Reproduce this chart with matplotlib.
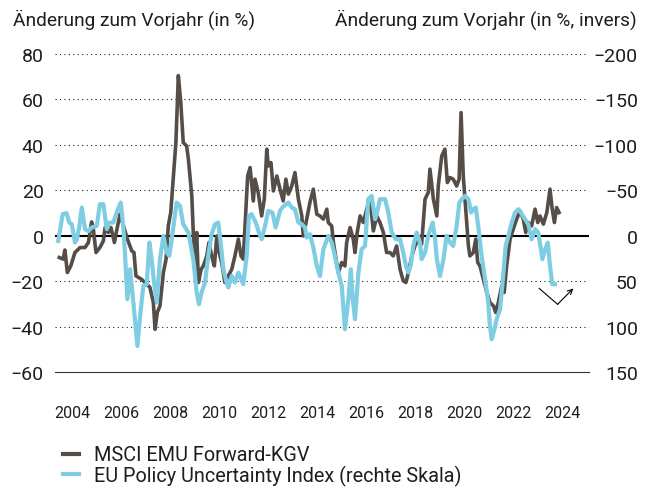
import matplotlib.pyplot as plt
from matplotlib.lines import Line2D

plt.rcParams['font.family'] = ['Roboto', 'DejaVu Sans']

# MSCI EMU Forward-KGV, Veränderung ggü. Vorjahr in % (linke Skala)
kgv_t = [2003.48, 2003.64, 2003.71, 2003.81, 2003.95, 2004.12, 2004.33, 2004.53, 2004.67, 2004.80,
         2004.87, 2004.98, 2005.14, 2005.28, 2005.35, 2005.48, 2005.59, 2005.73, 2005.82, 2005.96,
         2006.26, 2006.44, 2006.53, 2006.61, 2006.84, 2007.05, 2007.18, 2007.32, 2007.39, 2007.48,
         2007.59, 2007.73, 2007.84, 2007.93, 2008.03, 2008.13, 2008.24, 2008.34, 2008.44, 2008.54,
         2008.68, 2008.75, 2008.89, 2008.95, 2009.02, 2009.09, 2009.16, 2009.27, 2009.36, 2009.50,
         2009.59, 2009.70, 2009.81, 2009.91, 2009.97, 2010.11, 2010.24, 2010.38, 2010.52, 2010.65,
         2010.79, 2010.90, 2010.99, 2011.17, 2011.27, 2011.33, 2011.40, 2011.47, 2011.60, 2011.74,
         2011.85, 2011.95, 2012.01, 2012.12, 2012.22, 2012.36, 2012.49, 2012.62, 2012.73, 2012.83,
         2012.97, 2013.10, 2013.24, 2013.38, 2013.44, 2013.58, 2013.71, 2013.85, 2013.99, 2014.12,
         2014.26, 2014.40, 2014.46, 2014.60, 2014.67, 2014.80, 2014.87, 2015.01, 2015.14, 2015.21,
         2015.35, 2015.48, 2015.55, 2015.64, 2015.76, 2015.89, 2016.03, 2016.16, 2016.30, 2016.44,
         2016.57, 2016.71, 2016.84, 2016.98, 2017.11, 2017.25, 2017.39, 2017.52, 2017.63, 2017.73,
         2017.87, 2018.00, 2018.13, 2018.27, 2018.41, 2018.54, 2018.61, 2018.75, 2018.89, 2018.95,
         2019.09, 2019.22, 2019.32, 2019.43, 2019.56, 2019.70, 2019.80, 2019.88, 2019.97, 2020.04,
         2020.11, 2020.18, 2020.24, 2020.38, 2020.48, 2020.56, 2020.65, 2020.79, 2020.93, 2021.06,
         2021.20, 2021.29, 2021.40, 2021.54, 2021.64, 2021.74, 2021.88, 2022.01, 2022.15, 2022.29,
         2022.42, 2022.52, 2022.62, 2022.76, 2022.90, 2023.01, 2023.10, 2023.24, 2023.38, 2023.51,
         2023.60, 2023.69, 2023.78, 2023.88]
kgv = [-9.6, -10.3, -6.3, -16.2, -13.3, -7.4, -5.2, -5.2, -3.0, 6.1,
       2.9, -7.4, -5.2, -2.3, 3.6, 1.4, 3.6, -3.0, 2.1, 9.5,
       -1.5, -6.7, -7.4, -17.7, -19.2, -21.4, -22.7, -29.4, -41.2, -33.8,
       -30.9, -16.2, -10.3, 4.3, 10.2, 24.9, 41.0, 70.5, 58.7, 41.0,
       39.5, 33.7, 17.5, 1.4, -11.8, 1.4, -20.6, -14.8, -13.3, -8.9,
       -3.0, -8.9, -13.3, -0.1, -5.9, -11.8, -20.6, -17.7, -14.8, -8.9,
       -1.5, -8.9, -10.3, 26.3, 30.0, 23.4, 15.3, 24.9, 19.0, 8.7,
       16.1, 38.1, 30.7, 32.2, 19.7, 26.3, 20.5, 15.3, 24.9, 18.3,
       21.9, 27.8, 16.1, 8.7, -0.1, 7.3, 14.6, 20.5, 9.5, 8.7,
       7.3, 11.7, 5.8, 4.3, -3.0, -11.8, -16.2, -11.8, -13.3, -3.0,
       3.6, -1.5, -7.4, 1.4, 8.7, 5.8, 11.7, 16.1, 2.1, 8.7,
       5.8, 1.4, -7.4, -7.4, -8.9, -4.5, -14.8, -19.9, -20.6, -16.2,
       -8.9, -4.5, -1.5, -3.7, 16.1, 19.0, 29.3, 16.1, 8.7, 21.9,
       35.1, 38.1, 23.4, 25.6, 24.9, 21.9, 24.9, 54.2, 26.3, 16.1,
       5.8, -4.5, -8.9, -7.4, -1.5, -11.8, -13.3, -19.2, -25.0, -29.4,
       -30.9, -33.8, -29.4, -22.1, -25.0, -13.3, -1.5, 2.9, 7.3, 10.9,
       7.3, 1.4, 5.8, 4.3, 11.7, 5.8, 8.7, 5.1, 10.2, 20.5,
       11.7, 5.8, 12.4, 10.2]

# EU Policy Uncertainty Index, Veränderung ggü. Vorjahr in % (rechte Skala, invers)
epu_t = [2003.44, 2003.62, 2003.78, 2003.89, 2003.99, 2004.12, 2004.20, 2004.30, 2004.40, 2004.53,
         2004.67, 2004.80, 2005.01, 2005.14, 2005.28, 2005.42, 2005.52, 2005.69, 2005.82, 2005.99,
         2006.09, 2006.16, 2006.26, 2006.37, 2006.44, 2006.53, 2006.67, 2006.78, 2006.91, 2007.05,
         2007.16, 2007.25, 2007.35, 2007.46, 2007.59, 2007.73, 2007.87, 2007.97, 2008.07, 2008.27,
         2008.41, 2008.54, 2008.75, 2008.95, 2009.09, 2009.18, 2009.29, 2009.43, 2009.56, 2009.70,
         2009.84, 2009.97, 2010.08, 2010.18, 2010.31, 2010.38, 2010.52, 2010.65, 2010.79, 2010.99,
         2011.13, 2011.22, 2011.33, 2011.50, 2011.63, 2011.74, 2011.88, 2012.01, 2012.18, 2012.31,
         2012.49, 2012.62, 2012.83, 2012.97, 2013.10, 2013.24, 2013.38, 2013.51, 2013.58, 2013.71,
         2013.85, 2013.99, 2014.12, 2014.26, 2014.46, 2014.60, 2014.73, 2014.87, 2015.01, 2015.14,
         2015.28, 2015.38, 2015.46, 2015.55, 2015.69, 2015.82, 2015.96, 2016.09, 2016.23, 2016.37,
         2016.45, 2016.57, 2016.78, 2016.91, 2017.05, 2017.22, 2017.39, 2017.52, 2017.63, 2017.73,
         2017.82, 2017.93, 2018.07, 2018.20, 2018.27, 2018.41, 2018.54, 2018.72, 2018.82, 2018.89,
         2019.02, 2019.16, 2019.29, 2019.43, 2019.56, 2019.70, 2019.81, 2019.91, 2020.04, 2020.18,
         2020.29, 2020.38, 2020.48, 2020.58, 2020.72, 2020.86, 2020.99, 2021.06, 2021.13, 2021.24,
         2021.33, 2021.47, 2021.60, 2021.70, 2021.81, 2021.95, 2022.08, 2022.22, 2022.36, 2022.49,
         2022.62, 2022.76, 2022.90, 2023.03, 2023.20, 2023.31, 2023.42, 2023.51, 2023.60, 2023.71]
epu = [5.7, -23.7, -24.8, -14.5, -12.7, 7.5, 3.9, -10.8, -31.0, -7.2,
       -5.0, -9.0, -10.8, -34.7, -34.7, -7.2, -14.5, -14.5, -25.5, -36.5,
       -10.8, 18.5, 69.9, 36.9, 55.3, 80.9, 121.3, 88.3, 55.3, 53.4,
       7.5, 25.9, 51.5, 73.5, 25.9, 0.2, 18.5, 22.2, 3.9, -36.5,
       -32.8, -12.7, -3.5, 25.9, 62.5, 75.4, 62.5, 51.5, 22.2, -1.7,
       -12.7, -14.5, 11.2, 36.9, 51.5, 57.0, 44.3, 51.5, 40.5, 53.4,
       22.2, -21.8, -23.7, -14.5, -3.5, 3.9, -10.8, -27.3, -25.5, -9.0,
       -27.3, -32.1, -36.5, -31.0, -29.2, -14.5, -12.7, -9.0, 2.0, -1.7,
       13.0, 33.2, 44.3, 14.9, 0.2, 7.5, 22.2, 40.5, 55.3, 102.9,
       69.9, 36.9, 69.9, 91.9, 40.5, 14.9, 11.2, -40.2, -43.8, -18.2,
       -25.5, -40.2, -40.2, -25.5, -3.5, 3.9, 3.9, 18.5, 33.2, 40.5,
       33.2, 11.2, -3.5, 7.5, 25.9, 18.5, 0.2, -14.5, 3.9, 25.9,
       44.3, 25.9, 0.2, 7.5, 11.2, -10.8, -36.5, -40.2, -43.8, -40.2,
       -25.5, -29.2, -31.0, -10.8, 22.2, 47.9, 73.5, 99.3, 113.9, 102.9,
       91.9, 80.9, 44.3, 11.2, 0.2, -14.5, -25.5, -29.2, -23.7, -18.2,
       -12.7, 3.9, -7.2, -3.5, 25.9, 14.9, 7.5, 33.2, 53.4, 53.4]

year_ticks = list(range(2004, 2025, 2))
left_ticks = [80, 60, 40, 20, 0, -20, -40, -60]
right_ticks = [-200, -150, -100, -50, 0, 50, 100, 150]

# Pfeil am Ende (linke Skala)
arrow_t = [2023.07, 2023.82, 2024.46]
arrow_v = [-23.2, -30.2, -23.2]

dark = '#554d48'
blue = '#7fcde2'
ink = '#1e1e1e'

fig = plt.figure(figsize=(6.52, 4.89), dpi=100)
ax = fig.add_axes([55 / 652, 1 - 373 / 489, 534.3 / 652, 318 / 489])
ax2 = ax.twinx()

# Gitterlinien
for v in left_ticks:
    if v == 0:
        ax.axhline(v, color='black', lw=1.5, zorder=1)
    elif v != -60:
        ax.axhline(v, color=ink, lw=0.8, ls=(0, (1, 3)), zorder=1)

ax.plot(kgv_t, kgv, color=dark, lw=2.6, zorder=3, solid_joinstyle='round')
ax2.plot(epu_t, epu, color=blue, lw=3.0, zorder=3, solid_joinstyle='round')

# kleiner Pfeil rechts unten
ax.plot(arrow_t[:2], arrow_v[:2], color='black', lw=0.8)
ax.annotate('', xy=(arrow_t[2], arrow_v[2]), xytext=(arrow_t[1], arrow_v[1]),
            arrowprops=dict(arrowstyle='->', color='black', lw=0.8, mutation_scale=9,
                            shrinkA=0, shrinkB=0))

ax.set_xlim(2003.306, 2025.114)
ax.set_ylim(-60, 80)
ax2.set_ylim(150, -200)

for s in ['top', 'left', 'right']:
    ax.spines[s].set_visible(False)
ax.spines['bottom'].set_color('#333333')
ax.spines['bottom'].set_linewidth(0.8)
for s in ax2.spines.values():
    s.set_visible(False)

ax.set_yticks(left_ticks)
ax.tick_params(axis='y', length=0, pad=8, labelsize=14, labelcolor=ink)
ax.set_xticks(year_ticks)
ax.tick_params(axis='x', length=0, pad=24, labelsize=11.5, labelcolor=ink)

ax2.set_yticks(right_ticks)
ax2.tick_params(axis='y', length=0, pad=35, labelsize=14, labelcolor=ink)
for t in ax2.get_yticklabels():
    t.set_horizontalalignment('right')

fig.text(13 / 652, 1 - 20 / 489, 'Änderung zum Vorjahr (in %)', fontsize=13.8,
         color=ink, ha='left', va='center')
fig.text(637 / 652, 1 - 20 / 489, 'Änderung zum Vorjahr (in %, invers)', fontsize=13.8,
         color=ink, ha='right', va='center')

handles = [Line2D([], [], color=dark, lw=3), Line2D([], [], color=blue, lw=3)]
labels = ['MSCI EMU Forward-KGV', 'EU Policy Uncertainty Index (rechte Skala)']
fig.legend(handles, labels, loc='center left', bbox_to_anchor=(63 / 652, 1 - 466.5 / 489),
           frameon=False, fontsize=14.3, handlelength=0.82, handletextpad=0.75,
           labelspacing=0.0, borderpad=0, borderaxespad=0, labelcolor=ink)

fig.savefig('out.png', dpi=100)
